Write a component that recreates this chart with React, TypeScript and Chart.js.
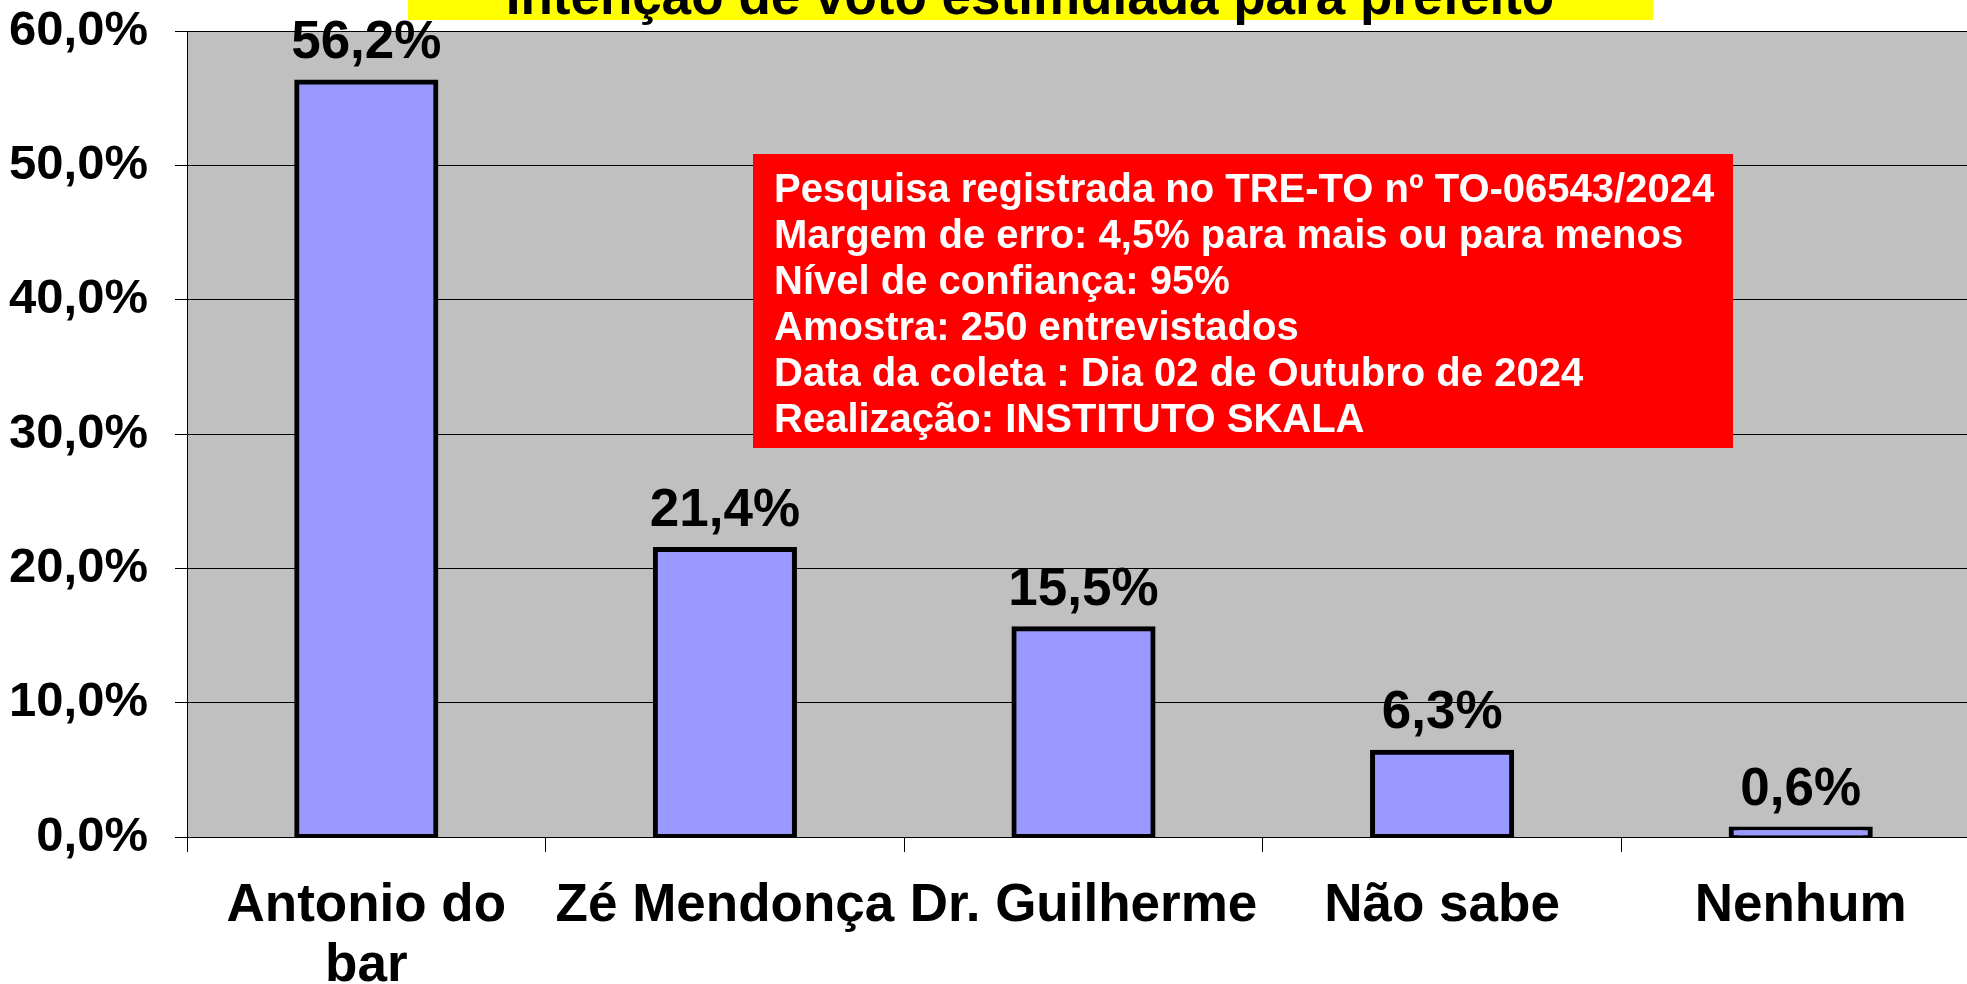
import React, { useEffect, useRef } from "react";
import { Chart, registerables } from "chart.js";

Chart.register(...registerables);

const categories: (string | string[])[] = [["Antonio do", "bar"], "Zé Mendonça", "Dr. Guilherme", "Não sabe", "Nenhum"];
const values: number[] = [56.2, 21.4, 15.5, 6.3, 0.6];
const yTicks: number[] = [0, 10, 20, 30, 40, 50, 60];
const titleText = "Intenção de voto estimulada para prefeito";
const noteLines: string[] = [
  "Pesquisa registrada no TRE-TO nº TO-06543/2024",
  "Margem de erro: 4,5% para mais ou para menos",
  "Nível de confiança: 95%",
  "Amostra: 250 entrevistados",
  "Data da coleta : Dia 02 de Outubro de 2024",
  "Realização: INSTITUTO SKALA",
];

const FONT = "'Liberation Sans', Arial, sans-serif";
const fmt = (v: number) => v.toFixed(1).replace(".", ",") + "%";

const decorPlugin = {
  id: "decor",
  beforeDraw(chart: any) {
    const { ctx, chartArea } = chart;
    ctx.save();
    ctx.fillStyle = "#C0C0C0";
    ctx.fillRect(chartArea.left, chartArea.top, chartArea.right - chartArea.left, chartArea.bottom - chartArea.top);
    ctx.restore();
  },
  afterDraw(chart: any) {
    const { ctx } = chart;
    ctx.save();
    // data labels
    const meta = chart.getDatasetMeta(0);
    ctx.fillStyle = "#000";
    ctx.font = `bold 53px ${FONT}`;
    ctx.textAlign = "center";
    ctx.textBaseline = "alphabetic";
    meta.data.forEach((bar: any, i: number) => {
      ctx.fillText(fmt(values[i]), bar.x, bar.y - 24);
    });
    // title (clipped at top)
    ctx.fillStyle = "#FFFF00";
    ctx.fillRect(408, 0, 1245, 20);
    ctx.fillStyle = "#000";
    ctx.font = `bold 53px ${FONT}`;
    ctx.fillText(titleText, 1030, 14);
    // note box
    ctx.fillStyle = "#FF0000";
    ctx.fillRect(753, 154, 980, 294);
    ctx.fillStyle = "#FFFFFF";
    ctx.font = `bold 40px ${FONT}`;
    ctx.textAlign = "left";
    ctx.textBaseline = "middle";
    noteLines.forEach((line, i) => {
      ctx.fillText(line, 774, 191 + i * 46);
    });
    ctx.restore();
  },
};

export default function App() {
  const ref = useRef<HTMLCanvasElement>(null);
  useEffect(() => {
    if (!ref.current) return;
    const chart = new Chart(ref.current, {
      type: "bar",
      data: {
        labels: categories,
        datasets: [
          {
            data: values,
            backgroundColor: "#9999FF",
            borderColor: "#000000",
            borderWidth: 5,
            borderSkipped: false,
            inflateAmount: 2.5,
            categoryPercentage: 1,
            barPercentage: 0.388,
          },
        ],
      },
      options: {
        animation: false,
        responsive: false,
        maintainAspectRatio: false,
        layout: { padding: { top: 31, right: 10, left: 0, bottom: 0 } },
        plugins: { legend: { display: false }, tooltip: { enabled: false }, title: { display: false } },
        scales: {
          x: {
            offset: true,
            grid: {
              display: true,
              offset: true,
              drawOnChartArea: false,
              drawTicks: true,
              tickLength: 15,
              color: "#000",
              lineWidth: 1,
            },
            border: { display: true, color: "#000", width: 1 },
            ticks: {
              color: "#000",
              font: { family: FONT, size: 53, weight: "bold", lineHeight: 1.12 },
              padding: 25,
              maxRotation: 0,
              autoSkip: false,
            },
            afterFit(scale: any) {
              scale.height = 147;
              scale.paddingLeft = 0;
              scale.paddingRight = 0;
            },
          },
          y: {
            min: 0,
            max: 60,
            afterBuildTicks(scale: any) {
              scale.ticks = yTicks.map((v) => ({ value: v }));
            },
            grid: { color: "#000", lineWidth: 1, tickLength: 12, drawTicks: true },
            border: { display: true, color: "#000", width: 1 },
            ticks: {
              color: "#000",
              font: { family: FONT, size: 49, weight: "bold" },
              padding: 27,
              callback: (v: any) => fmt(Number(v)),
            },
            afterFit(scale: any) {
              scale.width = 187;
              scale.paddingTop = 0;
              scale.paddingBottom = 0;
            },
          },
        },
      },
      plugins: [decorPlugin],
    });
    return () => chart.destroy();
  }, []);
  return (
    <div style={{ position: "fixed", left: 0, top: 0, width: 1990, height: 984, background: "#fff" }}>
      <canvas ref={ref} width={1990} height={984} style={{ width: 1990, height: 984, display: "block" }} />
    </div>
  );
}
